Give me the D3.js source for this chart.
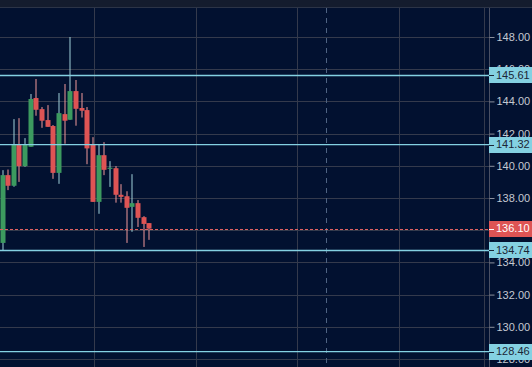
<!DOCTYPE html>
<html lang="en">
<head>
  <meta charset="UTF-8" />
  <title>Candles</title>
  <script src="https://d3js.org/d3.v7.min.js"></script>
  <style>
    html, body { margin: 0; padding: 0; background: #021130; overflow: hidden; }
    svg { display: block; font-family: "Liberation Sans", Arial, sans-serif; }
  </style>
</head>
<body>
  <div id="chart"></div>

  <script>
    // OHLC values (one entry per candle)
    const opens  = [135.21, 139.42, 138.76, 141.35, 139.98, 141.18, 144.21, 143.52, 142.84, 142.47, 139.56, 143.21, 142.86, 144.64,
                    143.59, 143.46, 141.35, 137.76, 140.66, 139.81, 139.85, 138.20, 138.11, 137.45, 137.68, 136.81, 136.44];
    const highs  = [139.73, 139.77, 142.90, 142.96, 141.72, 144.46, 145.39, 143.65, 143.77, 142.53, 144.52, 145.08, 148.00, 145.33,
                    144.52, 143.65, 141.78, 141.35, 141.47, 140.29, 139.98, 138.86, 138.42, 139.48, 137.87, 136.87, 136.44];
    const lows   = [134.76, 138.49, 138.70, 139.00, 139.94, 141.18, 143.11, 142.36, 142.42, 139.19, 138.88, 141.37, 142.86, 142.49,
                    143.00, 140.10, 137.76, 137.02, 139.42, 138.69, 137.71, 137.71, 135.21, 135.90, 136.20, 134.96, 135.40];
    const closes = [139.42, 138.76, 141.35, 139.98, 141.35, 144.15, 143.48, 142.80, 142.42, 139.56, 143.27, 142.80, 144.64, 143.54,
                    143.42, 141.08, 137.76, 140.66, 139.75, 139.88, 138.20, 138.07, 137.39, 137.68, 136.77, 136.39, 136.10];

    // niveaux horizontaux + dernier prix
    const levels = [145.61, 141.32, 134.74, 128.46];
    const lastPrice = 136.10;

    // ticks
    const yTicks = [128, 130, 132, 134, 136, 138, 140, 142, 144, 146, 148];
    const xGridTicks = [16.25, 34.2, 52.2, 70.1];
    const xCursor = 57.2;

    const width = 532, height = 367;
    const axisX = 489;     // ligne de l'axe des prix
    const plotRight = 484;
    const topBar = 7;

    const candles = opens.map((o, i) => ({ i, o, h: highs[i], l: lows[i], c: closes[i] }));

    const x = d3.scaleLinear().domain([0, 85]).range([2.5, 2.5 + 85 * 5.65]);
    const y = d3.scaleLinear().domain([128, 148]).range([359, 37]);
    const crisp = v => Math.round(v) + 0.5;

    const svg = d3.select("#chart").append("svg")
      .attr("width", width)
      .attr("height", height);

    svg.append("rect").attr("width", width).attr("height", height).attr("fill", "#021130");

    // bandeau du haut
    svg.append("rect").attr("width", width).attr("height", topBar).attr("fill", "#141c2e");
    svg.append("line")
      .attr("x1", 0).attr("x2", width)
      .attr("y1", topBar + 0.5).attr("y2", topBar + 0.5)
      .attr("stroke", "#2c3447");

    // grille horizontale
    svg.append("g").selectAll("line")
      .data(yTicks)
      .enter().append("line")
      .attr("x1", 0).attr("x2", axisX)
      .attr("y1", d => crisp(y(d))).attr("y2", d => crisp(y(d)))
      .attr("stroke", "#343a4c");

    // grille verticale
    svg.append("g").selectAll("line")
      .data(xGridTicks)
      .enter().append("line")
      .attr("x1", d => crisp(x(d))).attr("x2", d => crisp(x(d)))
      .attr("y1", topBar + 1).attr("y2", height)
      .attr("stroke", "#343a4c");

    // bord droit de la zone + axe
    svg.append("line")
      .attr("x1", plotRight + 0.5).attr("x2", plotRight + 0.5)
      .attr("y1", topBar + 1).attr("y2", height)
      .attr("stroke", "#343a4c");

    // curseur vertical en pointillés
    svg.append("line")
      .attr("x1", crisp(x(xCursor))).attr("x2", crisp(x(xCursor)))
      .attr("y1", topBar + 1).attr("y2", height)
      .attr("stroke", "#4f6382")
      .attr("stroke-dasharray", "5,5");

    // axe des prix (droite)
    const yAxis = d3.axisRight(y)
      .tickValues(yTicks)
      .tickSize(5)
      .tickPadding(2)
      .tickFormat(d3.format(".2f"));

    const gAxis = svg.append("g")
      .attr("transform", `translate(${axisX + 0.5},0)`)
      .call(yAxis);
    gAxis.select(".domain").attr("stroke", "#4a5063").attr("d", `M0,${topBar + 1}V${height}`);
    gAxis.selectAll(".tick line").attr("stroke", "#8a8f9c");
    gAxis.selectAll(".tick text")
      .attr("fill", "#c4c8d0")
      .style("font-size", "11px")
      .style("font-family", "'Liberation Sans', Arial, sans-serif");

    // bougies
    const gCandles = svg.append("g");
    const up = d => d.c >= d.o;

    gCandles.selectAll("rect.wick")
      .data(candles)
      .enter().append("rect")
      .attr("class", "wick")
      .attr("x", d => Math.round(x(d.i)) - 0.5)
      .attr("width", 1)
      .attr("y", d => y(d.h))
      .attr("height", d => Math.max(1, y(d.l) - y(d.h)))
      .attr("fill", d => up(d) ? "#9fd2d9" : "#f29a9a");

    gCandles.selectAll("rect.body")
      .data(candles)
      .enter().append("rect")
      .attr("class", "body")
      .attr("x", d => Math.round(x(d.i)) - 2.5)
      .attr("width", 5)
      .attr("y", d => y(Math.max(d.o, d.c)))
      .attr("height", d => Math.max(1, Math.abs(y(d.o) - y(d.c))))
      .attr("fill", d => up(d) ? "#3c9a5f" : "#de5454");

    // lignes de niveaux
    svg.append("g").selectAll("line")
      .data(levels)
      .enter().append("line")
      .attr("x1", 0).attr("x2", axisX)
      .attr("y1", d => y(d)).attr("y2", d => y(d))
      .attr("stroke", "#84d1e2")
      .attr("stroke-width", 1.3);

    // ligne du dernier prix
    svg.append("line")
      .attr("x1", 0).attr("x2", axisX)
      .attr("y1", crisp(y(lastPrice))).attr("y2", crisp(y(lastPrice)))
      .attr("stroke", "#e06060")
      .attr("stroke-dasharray", "3,2");

    // étiquettes sur l'axe
    const labels = levels.map(v => ({ v, fill: "#84d1e2", text: "#1b2636" }))
      .concat([{ v: lastPrice, fill: "#de5454", text: "#ffffff" }]);

    const gLabels = svg.append("g");
    labels.forEach(d => {
      const cy = y(d.v);
      gLabels.append("rect")
        .attr("x", axisX)
        .attr("y", Math.round(cy) - 8)
        .attr("width", width - axisX)
        .attr("height", 16)
        .attr("fill", d.fill);
      gLabels.append("line")
        .attr("x1", axisX).attr("x2", axisX + 5)
        .attr("y1", crisp(cy)).attr("y2", crisp(cy))
        .attr("stroke", d.text === "#ffffff" ? "#ffffff" : "#1b2636");
      gLabels.append("text")
        .attr("x", axisX + 7)
        .attr("y", cy)
        .attr("dy", "0.35em")
        .attr("fill", d.text)
        .style("font-size", "11px")
        .text(d3.format(".2f")(d.v));
    });
  </script>
</body>
</html>
